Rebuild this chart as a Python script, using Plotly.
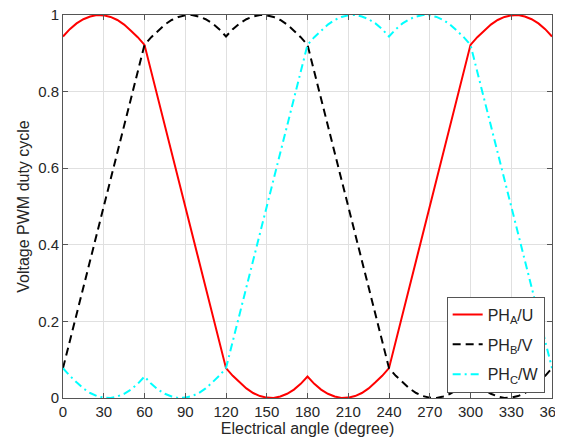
import plotly.graph_objects as go

angle_deg = list(range(0, 361, 5))

phase_a_u = [0.944, 0.963, 0.978, 0.989, 0.996, 1.000, 0.999, 0.995, 0.987, 0.975, 0.959, 0.942, 0.922,
             0.852, 0.781, 0.711, 0.641, 0.570, 0.500, 0.430, 0.359, 0.289, 0.219, 0.148, 0.078,
             0.058, 0.041, 0.025, 0.013, 0.005, 0.001, 0.000, 0.004, 0.011, 0.022, 0.037, 0.056,
             0.037, 0.022, 0.011, 0.004, 0.000, 0.001, 0.005, 0.013, 0.025, 0.041, 0.058, 0.078,
             0.148, 0.219, 0.289, 0.359, 0.430, 0.500, 0.570, 0.641, 0.711, 0.781, 0.852, 0.922,
             0.942, 0.959, 0.975, 0.987, 0.995, 0.999, 1.000, 0.996, 0.989, 0.978, 0.963, 0.944]

phase_b_v = [0.078, 0.148, 0.219, 0.289, 0.359, 0.430, 0.500, 0.570, 0.641, 0.711, 0.781, 0.852, 0.922,
             0.942, 0.959, 0.975, 0.987, 0.995, 0.999, 1.000, 0.996, 0.989, 0.978, 0.963, 0.944,
             0.963, 0.978, 0.989, 0.996, 1.000, 0.999, 0.995, 0.987, 0.975, 0.959, 0.942, 0.922,
             0.852, 0.781, 0.711, 0.641, 0.570, 0.500, 0.430, 0.359, 0.289, 0.219, 0.148, 0.078,
             0.058, 0.041, 0.025, 0.013, 0.005, 0.001, 0.000, 0.004, 0.011, 0.022, 0.037, 0.056,
             0.037, 0.022, 0.011, 0.004, 0.000, 0.001, 0.005, 0.013, 0.025, 0.041, 0.058, 0.078]

phase_c_w = [0.078, 0.058, 0.041, 0.025, 0.013, 0.005, 0.001, 0.000, 0.004, 0.011, 0.022, 0.037, 0.056,
             0.037, 0.022, 0.011, 0.004, 0.000, 0.001, 0.005, 0.013, 0.025, 0.041, 0.058, 0.078,
             0.148, 0.219, 0.289, 0.359, 0.430, 0.500, 0.570, 0.641, 0.711, 0.781, 0.852, 0.922,
             0.942, 0.959, 0.975, 0.987, 0.995, 0.999, 1.000, 0.996, 0.989, 0.978, 0.963, 0.944,
             0.963, 0.978, 0.989, 0.996, 1.000, 0.999, 0.995, 0.987, 0.975, 0.959, 0.942, 0.922,
             0.852, 0.781, 0.711, 0.641, 0.570, 0.500, 0.430, 0.359, 0.289, 0.219, 0.148, 0.078]

x_ticks = list(range(0, 361, 30))
y_ticks = [0, 0.2, 0.4, 0.6, 0.8, 1]
y_tick_text = ["0", "0.2", "0.4", "0.6", "0.8", "1"]

FONT = "Liberation Sans, Arial, Helvetica, sans-serif"
TXT = "#262626"
AX = "#555555"

fig = go.Figure()
fig.add_trace(go.Scatter(x=angle_deg, y=phase_a_u, mode="lines", name="PH<sub>A</sub>/U",
                         legendgroup="a", line=dict(color="#ff0000", width=2)))
fig.add_trace(go.Scatter(x=angle_deg, y=phase_b_v, mode="lines", name="PH<sub>B</sub>/V",
                         legendgroup="b", line=dict(color="#000000", width=2, dash="8px,5px")))
fig.add_trace(go.Scatter(x=angle_deg, y=phase_c_w, mode="lines", name="PH<sub>C</sub>/W",
                         legendgroup="c", line=dict(color="#00ffff", width=2, dash="8px,4px,2px,4px")))

# page body has an 8px default margin, so the figure is sized to fit the window
fig.update_layout(
    width=555, height=431,
    margin=dict(l=55, r=11, t=7, b=41),
    paper_bgcolor="white", plot_bgcolor="white",
    font=dict(family=FONT, size=15, color=TXT),
    showlegend=True,
    legend=dict(x=0.985, y=0.014, xanchor="right", yanchor="bottom",
                bgcolor="white", bordercolor=AX, borderwidth=1,
                tracegroupgap=6,
                font=dict(family=FONT, size=16, color=TXT)),
)
fig.update_xaxes(range=[0, 360], tickvals=x_ticks, ticktext=[str(v) for v in x_ticks],
                 automargin=False, ticklabeloverflow="allow",
                 showgrid=True, gridcolor="#e0e0e0", gridwidth=1,
                 showline=True, linecolor=AX, linewidth=1, mirror="ticks",
                 ticks="inside", ticklen=5, tickcolor=AX, zeroline=False,
                 tickfont=dict(family=FONT, size=15, color=TXT),
                 title=dict(text="Electrical angle (degree)", standoff=2,
                            font=dict(family=FONT, size=16, color=TXT)))
fig.update_yaxes(range=[0, 1], tickvals=y_ticks, ticktext=y_tick_text,
                 automargin=False, ticklabeloverflow="allow",
                 showgrid=True, gridcolor="#e0e0e0", gridwidth=1,
                 showline=True, linecolor=AX, linewidth=1, mirror="ticks",
                 ticks="inside", ticklen=5, tickcolor=AX, zeroline=False,
                 tickfont=dict(family=FONT, size=15, color=TXT),
                 title=dict(text="Voltage PWM duty cycle", standoff=4,
                            font=dict(family=FONT, size=16, color=TXT)))

fig.write_html("out.html")
